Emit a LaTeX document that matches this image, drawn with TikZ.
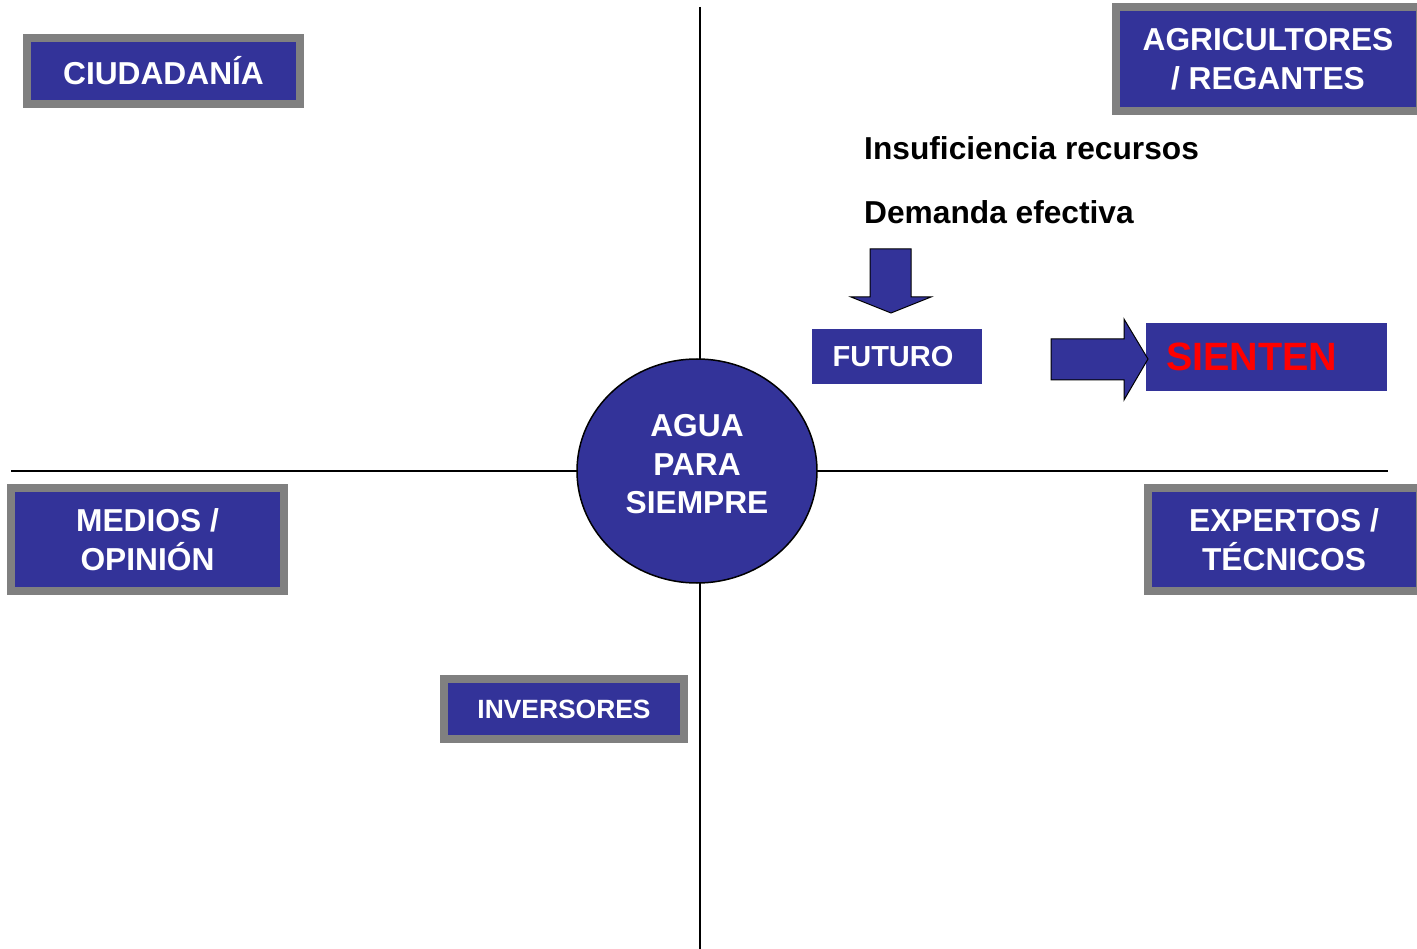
\documentclass[tikz,border=0pt]{standalone}
\usepackage{fontspec}
\setmainfont{Liberation Sans}
\usetikzlibrary{shapes.geometric}
\definecolor{azul}{HTML}{333399}
\definecolor{gris}{HTML}{808080}
\definecolor{rojo}{HTML}{FF0000}
\begin{document}
\begin{tikzpicture}[x=1pt,y=-1pt,
  graybox/.style={draw=gris,line width=8pt,fill=azul,text=white,inner sep=0pt,align=center,
    font=\fontsize{31.7}{39}\selectfont\bfseries},
  plainbox/.style={fill=azul,inner sep=0pt},
  blockarrow/.style={draw=black,fill=azul,line width=1pt,line join=miter},
  axis/.style={draw=black,line width=1.5pt},
  label/.style={anchor=base west,inner sep=0pt,font=\fontsize{31.7}{39}\selectfont\bfseries}]
\useasboundingbox (0,0) rectangle (1417,949);
\fill[white] (0,0) rectangle (1417,949);
% axes
\coordinate (top) at (700,7);
\coordinate (bottom) at (700,949);
\coordinate (left) at (11,471);
\coordinate (right) at (1388,471);
\draw[axis] (top) -- (bottom);
\draw[axis] (left) -- (right);
% center
\node[ellipse,draw=black,line width=1.5pt,fill=azul,minimum width=240pt,minimum height=224pt,inner sep=0pt,
  text=white,align=center,text depth=14pt,font=\fontsize{31.7}{38.5}\selectfont\bfseries] (agua) at (697,471) {AGUA\\PARA\\SIEMPRE};
% boxes
\node[graybox,minimum width=273pt,minimum height=66pt] (ciud) at (163.5,71) {CIUDADANÍA};
\node[graybox,minimum width=304pt,minimum height=104pt] (agri) at (1268,59) {AGRICULTORES\\/ REGANTES};
\node[graybox,minimum width=273pt,minimum height=103pt] (medios) at (147.5,539.5) {MEDIOS /\\OPINIÓN};
\node[graybox,minimum width=272pt,minimum height=103pt] (expertos) at (1284,539.5) {EXPERTOS /\\TÉCNICOS};
\node[graybox,minimum width=240pt,minimum height=60pt,font=\fontsize{26.4}{32}\selectfont\bfseries] (inv) at (564,709) {INVERSORES};
% texts
\node[label] (insuf) at (864,160) {Insuficiencia recursos};
\node[label] (dem) at (864,224) {Demanda efectiva};
% futuro
\node[plainbox,minimum width=170pt,minimum height=55pt,text=white,font=\fontsize{29}{35}\selectfont\bfseries] (futuro) at (897,356.5) {\hspace*{-8pt}FUTURO};
\node[plainbox,minimum height=68pt,text width=201pt,inner xsep=20pt,align=left,text=rojo,
  font=\fontsize{39.5}{46}\selectfont\bfseries] (sienten) at (1266.5,357) {SIENTEN};
% block arrows
\draw[blockarrow] (870,249) -- (911,249) -- (911,297) -- (931,297) -- (891,313) -- (851,297) -- (870,297) -- cycle;
\draw[blockarrow] (1051,339) -- (1124,339) -- (1124,319) -- (1148,359) -- (1124,400) -- (1124,380) -- (1051,380) -- cycle;
\end{tikzpicture}
\end{document}
